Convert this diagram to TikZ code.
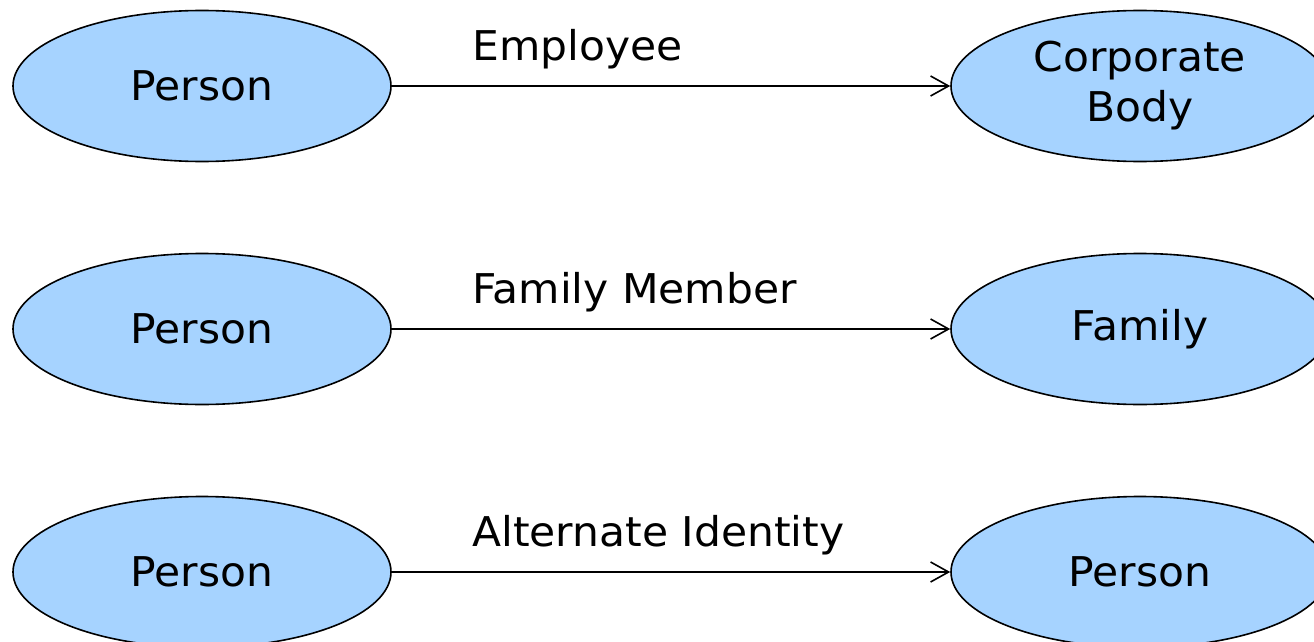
\documentclass[tikz,border=0pt]{standalone}
\usepackage{fontspec}
\setmainfont[FakeStretch=1.035]{DejaVu Sans}
\usetikzlibrary{shapes.geometric,arrows.meta}
\definecolor{entfill}{RGB}{166,211,255}
\tikzset{
  entity/.style={ellipse, draw=black, line width=1.6pt, fill=entfill,
    minimum width=378pt, minimum height=151pt, inner sep=0pt, align=center,
    font=\fontsize{41}{50}\selectfont},
  rel/.style={draw=black, line width=1.6pt, -{Straight Barb[length=18pt,width=20pt,line width=1.6pt]}},
  rellabel/.style={anchor=west, inner sep=0pt, font=\fontsize{41}{50}\selectfont}
}
\begin{document}
\begin{tikzpicture}[x=1pt,y=-1pt]
\useasboundingbox (0,0) rectangle (1314,642);
\clip (0,0) rectangle (1314,642);
\node[entity] (p1) at (202,86) {Person};
\node[entity] (c1) at (1140,86) {Corporate\\Body};
\node[entity] (p2) at (202,329) {Person};
\node[entity] (f2) at (1140,329) {Family};
\node[entity] (p3) at (202,572) {Person};
\node[entity] (q3) at (1140,572) {Person};
\draw[rel] (p1) -- (c1);
\draw[rel] (p2) -- (f2);
\draw[rel] (p3) -- (q3);
\node[rellabel] (l1) at (472,49) {Employee};
\node[rellabel] (l2) at (472,292) {Family Member};
\node[rellabel] (l3) at (472,535) {Alternate Identity};
\end{tikzpicture}
\end{document}
